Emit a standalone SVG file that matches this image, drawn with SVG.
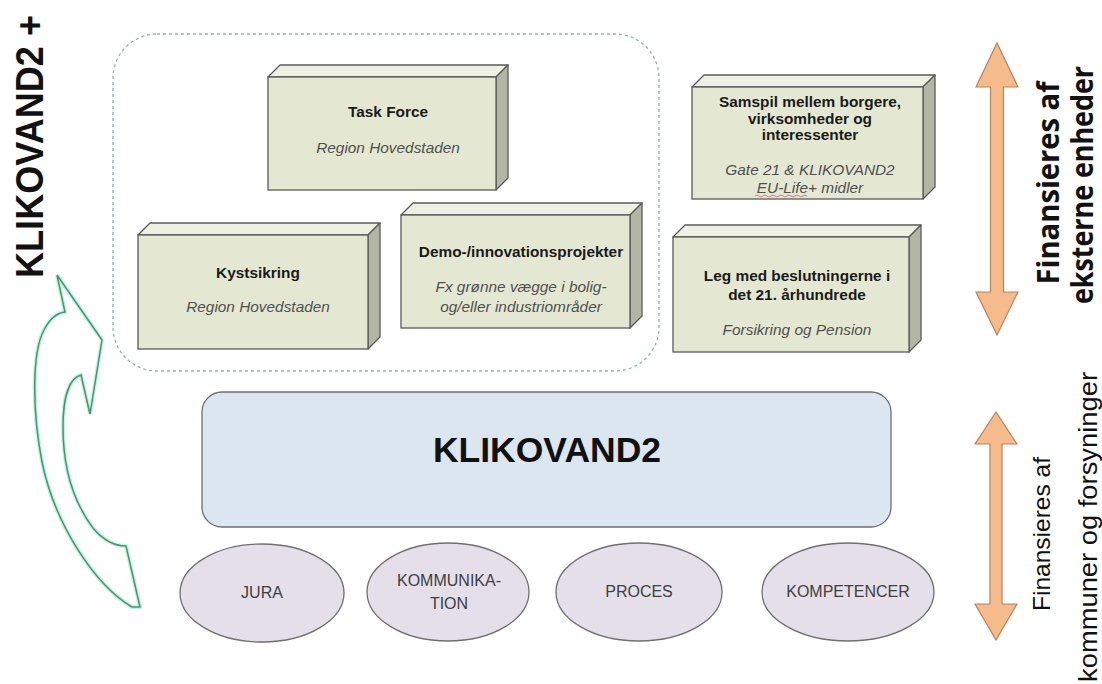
<svg xmlns="http://www.w3.org/2000/svg" width="1102" height="684" viewBox="0 0 1102 684">
<style>
.front{fill:#e4e8d3;stroke:#5a5a5a;stroke-width:1.3}
.top{fill:#eef0e2;stroke:#5a5a5a;stroke-width:1.3;stroke-linejoin:round}
.side{fill:#b3b6a4;stroke:#5a5a5a;stroke-width:1.3;stroke-linejoin:round}
.b{font-family:"Liberation Sans",Arial,sans-serif;font-weight:bold;font-size:14px;fill:#1a1a1a;text-anchor:middle}
.i{font-family:"Liberation Sans",Arial,sans-serif;font-style:italic;font-size:14px;fill:#505050;text-anchor:middle}
.ell{fill:#e4dfe8;stroke:#707070;stroke-width:1.3}
.et{font-family:"Liberation Sans",Arial,sans-serif;font-size:16px;fill:#404040;text-anchor:middle}
.orange{fill:#f6bb8d;stroke:#b7825c;stroke-width:1.2;stroke-linejoin:miter}
.side-label{font-family:"Open Sans","Liberation Sans",sans-serif;font-weight:700;font-size:30px;fill:#111}
.side-label2{font-family:"Liberation Sans",Arial,sans-serif;font-size:24px;fill:#111}
</style>
<rect width="1102" height="684" fill="#ffffff"/>

<g id="group-frame">
<rect x="113" y="34" width="546" height="337" rx="44" ry="44" fill="none" stroke="#93b3b0" stroke-width="1.3" stroke-dasharray="3,3"/>
</g>

<g id="node-taskforce">
<polygon class="top" points="268,77 280,65 508,65 496,77"/>
<polygon class="side" points="496,77 508,65 508,178 496,190"/>
<rect class="front" x="268" y="77" width="228" height="113"/>
<text class="b" transform="translate(388,117) scale(1.1,1)">Task Force</text>
<text class="i" transform="translate(388,153) scale(1.1,1)">Region Hovedstaden</text>
</g>

<g id="node-kystsikring">
<polygon class="top" points="138,235 150,223 380,223 368,235"/>
<polygon class="side" points="368,235 380,223 380,337 368,349"/>
<rect class="front" x="138" y="235" width="230" height="114"/>
<text class="b" transform="translate(258,278) scale(1.1,1)">Kystsikring</text>
<text class="i" transform="translate(258,312) scale(1.1,1)">Region Hovedstaden</text>
</g>

<g id="node-demo">
<polygon class="top" points="401,215 413,203 642,203 630,215"/>
<polygon class="side" points="630,215 642,203 642,316 630,328"/>
<rect class="front" x="401" y="215" width="229" height="113"/>
<text class="b" transform="translate(521,257) scale(1.1,1)">Demo-/innovationsprojekter</text>
<text class="i" transform="translate(521,292) scale(1.1,1)">Fx grønne vægge i bolig-</text>
<text class="i" transform="translate(521,312) scale(1.1,1)">og/eller industriområder</text>
</g>

<g id="node-samspil">
<polygon class="top" points="692,87 704,75 935,75 923,87"/>
<polygon class="side" points="923,87 935,75 935,187 923,199"/>
<rect class="front" x="692" y="87" width="231" height="112"/>
<text class="b" transform="translate(810,107) scale(1.1,1)">Samspil mellem borgere,</text>
<text class="b" transform="translate(810,124) scale(1.1,1)">virksomheder og</text>
<text class="b" transform="translate(810,140) scale(1.1,1)">interessenter</text>
<text class="i" transform="translate(810,175) scale(1.1,1)">Gate 21 &amp; KLIKOVAND2</text>
<text class="i" transform="translate(810,193) scale(1.1,1)">EU-Life+ midler</text>
<path d="M755,196 q2,-2 4,0 t4,0 t4,0 t4,0 t4,0 t4,0 t4,0 t4,0 t4,0 t4,0 t4,0 t4,0 t4,0" fill="none" stroke="#d06060" stroke-width="0.8"/>
</g>

<g id="node-leg">
<polygon class="top" points="673,237 685,225 921,225 909,237"/>
<polygon class="side" points="909,237 921,225 921,340 909,352"/>
<rect class="front" x="673" y="237" width="236" height="115"/>
<text class="b" transform="translate(797,281) scale(1.1,1)">Leg med beslutningerne i</text>
<text class="b" transform="translate(797,300) scale(1.1,1)">det 21. århundrede</text>
<text class="i" transform="translate(797,335) scale(1.1,1)">Forsikring og Pension</text>
</g>

<g id="node-klikovand2">
<rect x="202" y="392" width="689" height="135" rx="20" ry="20" fill="#dce6f0" stroke="#6e6e6e" stroke-width="1.3"/>
<text x="547" y="462" font-family="Liberation Sans, Arial, sans-serif" font-weight="bold" font-size="35.5" fill="#111" text-anchor="middle">KLIKOVAND2</text>
</g>

<g id="node-jura">
<ellipse class="ell" cx="262" cy="593" rx="82" ry="49"/>
<text class="et" x="262" y="598">JURA</text>
</g>
<g id="node-kommunikation">
<ellipse class="ell" cx="448" cy="592" rx="81" ry="49"/>
<text class="et" x="449" y="586">KOMMUNIKA-</text>
<text class="et" x="449" y="609">TION</text>
</g>
<g id="node-proces">
<ellipse class="ell" cx="639" cy="592" rx="83" ry="49"/>
<text class="et" x="639" y="597">PROCES</text>
</g>
<g id="node-kompetencer">
<ellipse class="ell" cx="848" cy="592" rx="86" ry="49"/>
<text class="et" x="848" y="597">KOMPETENCER</text>
</g>

<g id="connectors">
<polygon class="orange" points="997,43 1018,87 1003.5,87 1003.5,292 1018,292 997,335 976,292 990.5,292 990.5,87 976,87"/>
<polygon class="orange" points="996,412 1017,444 1002,444 1002,604 1017,604 996,640 975,604 990,604 990,444 975,444"/>
<g id="green-arrow" stroke-linejoin="miter">
<path d="M57,275 L102,340 L90,414 L81,375 C70,378 63,395 63,427 C63,465 72,500 93,528 C103,540 115,546 126,546 L140,607 L132,607 C95,585 55,525 42,462 C32,410 32,352 44,330 C50,318 57,313 65,312 Z" fill="none" stroke="#c8f0dc" stroke-width="4"/>
<path d="M57,275 L102,340 L90,414 L81,375 C70,378 63,395 63,427 C63,465 72,500 93,528 C103,540 115,546 126,546 L140,607 L132,607 C95,585 55,525 42,462 C32,410 32,352 44,330 C50,318 57,313 65,312 Z" fill="none" stroke="#3f9a74" stroke-width="1.5"/>
</g>
</g>

<g id="labels">
<text transform="translate(43,278) rotate(-90)" font-family="Liberation Sans, Arial, sans-serif" font-weight="bold" font-size="38" fill="#111" textLength="263" lengthAdjust="spacingAndGlyphs">KLIKOVAND2 +</text>
<text class="side-label" transform="translate(1059,183) rotate(-90)" text-anchor="middle" textLength="203" lengthAdjust="spacingAndGlyphs">Finansieres af</text>
<text class="side-label" transform="translate(1093,185) rotate(-90)" text-anchor="middle" textLength="238" lengthAdjust="spacingAndGlyphs">eksterne enheder</text>
<text class="side-label2" transform="translate(1050,534) rotate(-90)" text-anchor="middle" textLength="154" lengthAdjust="spacingAndGlyphs">Finansieres af</text>
<text class="side-label2" style="font-size:26.5px" transform="translate(1097,527) rotate(-90)" text-anchor="middle" textLength="310" lengthAdjust="spacingAndGlyphs">kommuner og forsyninger</text>
</g>
</svg>
